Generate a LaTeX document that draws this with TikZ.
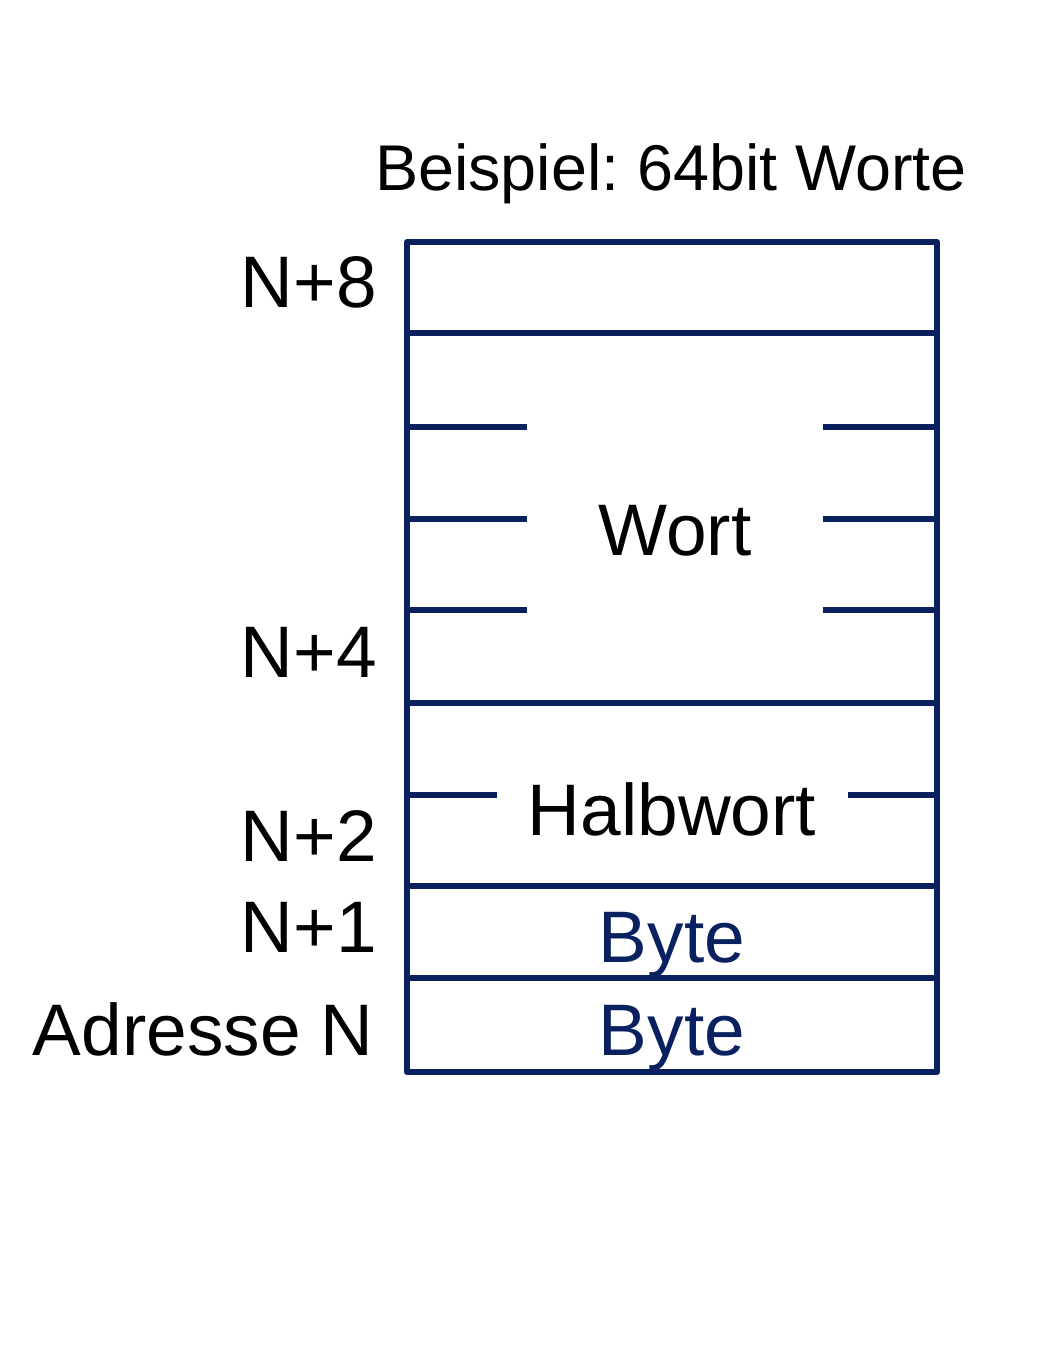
\documentclass[tikz,border=0pt]{standalone}
\usepackage{fontspec}
\setmainfont{Liberation Sans}
\usepackage{tikz}
\usetikzlibrary{positioning,calc}
\definecolor{memblue}{RGB}{10,33,96}
\frenchspacing

\begin{document}
\begin{tikzpicture}[
    x=0.75pt, y=-0.75pt,
    cell/.style={line width=4.6pt, draw=memblue, line join=round},
    addr/.style={anchor=base east, inner sep=0pt, font=\fontsize{54.75}{60}\selectfont},
    content/.style={anchor=base, inner sep=0pt, font=\fontsize{54.75}{60}\selectfont},
]
\useasboundingbox (0,0) rectangle (1054,1350);

% Memory frame
\coordinate (tl) at (407,242);
\coordinate (br) at (937,1072);
\draw[cell] (tl) rectangle (br);

% Cell borders
\foreach \y in {333,703,886,978}
    \draw[cell] (407,\y) -- (937,\y);

% Byte ticks inside the word
\foreach \y in {427,519,610} {
    \draw[cell] (407,\y) -- (527,\y);
    \draw[cell] (823,\y) -- (937,\y);
}
% Byte tick inside the half word
\draw[cell] (407,795) -- (497,795);
\draw[cell] (848,795) -- (937,795);

% Title
\node[anchor=base, inner sep=0pt, font=\fontsize{48.5}{54}\selectfont] (title) at (671,190) {Beispiel: 64bit Worte};

% Addresses
\node[addr] (a8) at (377,307) {N+8};
\node[addr] (a4) at (377,677) {N+4};
\node[addr] (a2) at (377,861) {N+2};
\node[addr] (a1) at (377,952) {N+1};
\node[addr] (a0) at (374,1055) {Adresse N};

% Contents
\node[content] (wort) at (675,555) {Wort};
\node[content] (halb) at (672,835) {Halbwort};
\node[content, text=memblue] (byte1) at (672,962) {Byte};
\node[content, text=memblue] (byte0) at (672,1055) {Byte};

\end{tikzpicture}
\end{document}
